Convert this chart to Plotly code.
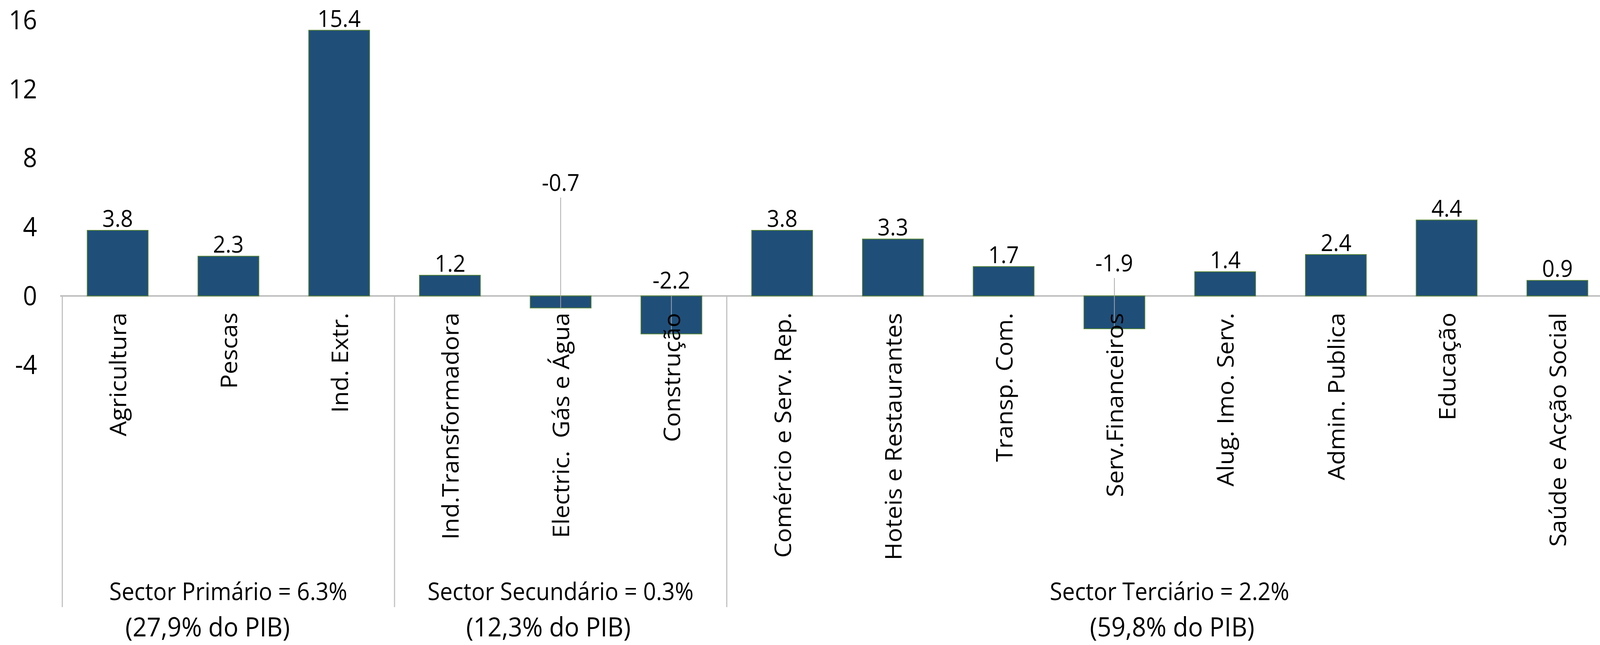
import plotly.graph_objects as go

# ---------------- data ----------------
categories = [
    "Agricultura", "Pescas", "Ind. Extr.",
    "Ind.Transformadora", "Electric.\u00a0 Gás e Água", "Construção",
    "Comércio e Serv. Rep.", "Hoteis e Restaurantes", "Transp. Com.",
    "Serv.Financeiros", "Alug. Imo. Serv.", "Admin. Publica", "Educação",
    "Saúde e Acção Social",
]
values = [3.8, 2.3, 15.4, 1.2, -0.7, -2.2, 3.8, 3.3, 1.7, -1.9, 1.4, 2.4, 4.4, 0.9]
sector_labels = ["Sector Primário = 6.3%", "Sector Secundário = 0.3%", "Sector Terciário = 2.2%"]
sector_sizes = [3, 3, 8]
pib_labels = ["(27,9% do PIB)", "(12,3% do PIB)", "(59,8% do PIB)"]
y_ticks = [-4, 0, 4, 8, 12, 16]

# ---------------- layout / style constants ----------------
W, H = 4394, 1652
BAR_COLOR = "#1F4E79"
BAR_EDGE = "#548235"
AXIS_GREY = "#BFBFBF"
LEADER_GREY = "#A6A6A6"
FONT = "Open Sans"
Y_MIN, Y_MAX = -18.04, 16
X_MIN, X_MAX = -0.52, 13.385
NEG_LABEL_Y = {4: 6.61, 5: 0.95, 9: 1.95}   # moved labels of negative bars
LEADER_GAP = 0.91
SECTOR_Y = -17.09
PIB_Y = -19.14
PIB_X_OFFSET = [-0.19, -0.11, 0.02]


def y_to_paper(y):
    return (y - Y_MIN) / (Y_MAX - Y_MIN)


fig = go.Figure(
    go.Bar(
        x=categories,
        y=values,
        marker=dict(color=BAR_COLOR, line=dict(color=BAR_EDGE, width=2)),
        hoverinfo="skip",
    )
)

annotations = []
shapes = []

# value labels + leader lines
for i, (c, v) in enumerate(zip(categories, values)):
    if v >= 0:
        annotations.append(dict(x=c, y=v, xref="x", yref="y", text=f"{v:.1f}",
                                showarrow=False, yanchor="bottom", yshift=-11,
                                font=dict(family=FONT, size=60, color="black")))
    else:
        ly = NEG_LABEL_Y[i]
        annotations.append(dict(x=c, y=ly, xref="x", yref="y", text=f"{v:.1f}",
                                showarrow=False, yanchor="middle",
                                font=dict(family=FONT, size=60, color="black")))
        shapes.append(dict(type="line", xref="x", yref="y", x0=i, x1=i,
                           y0=v, y1=ly - LEADER_GAP, layer="above",
                           line=dict(color=LEADER_GREY, width=2)))

# category labels (rotated, hanging below the zero line)
for c in categories:
    annotations.append(dict(x=c, y=0, xref="x", yref="y", text=c, textangle=-90,
                            showarrow=False, yanchor="top", yshift=-41,
                            font=dict(family=FONT, size=62, color="black")))

# sector group labels and separators
start = 0
boundaries = [-0.5]
for k, n in enumerate(sector_sizes):
    center = start + (n - 1) / 2
    annotations.append(dict(x=center, y=SECTOR_Y, xref="x", yref="y",
                            text=sector_labels[k], showarrow=False,
                            xanchor="center", yanchor="middle",
                            font=dict(family=FONT, size=62, color="black")))
    annotations.append(dict(x=center + PIB_X_OFFSET[k], y=y_to_paper(PIB_Y),
                            xref="x", yref="paper",
                            text=pib_labels[k], showarrow=False,
                            xanchor="center", yanchor="middle",
                            font=dict(family=FONT, size=68, color="black")))
    start += n
    boundaries.append(start - 0.5)

for b in boundaries:
    shapes.append(dict(type="line", xref="x", yref="y", x0=b, x1=b,
                       y0=0, y1=Y_MIN, layer="above",
                       line=dict(color=AXIS_GREY, width=3)))

fig.update_layout(
    width=W, height=H,
    margin=dict(l=165, r=0, t=51, b=97, pad=0),
    paper_bgcolor="white", plot_bgcolor="white",
    showlegend=False, hovermode=False,
    bargap=0.45,
    annotations=annotations,
    shapes=shapes,
    font=dict(family=FONT, color="black"),
)
fig.update_xaxes(type="category", range=[X_MIN, X_MAX], showticklabels=False,
                 showgrid=False, showline=False, zeroline=False, ticks="")
fig.update_yaxes(range=[Y_MIN, Y_MAX], tickvals=y_ticks,
                 ticktext=[str(t) for t in y_ticks],
                 tickfont=dict(family=FONT, size=68, color="black"),
                 showgrid=False, showline=False, ticks="",
                 zeroline=True, zerolinecolor=AXIS_GREY, zerolinewidth=4,
                 ticklabelstandoff=62)

# fit the fixed-size figure into the actual browser viewport
POST = """
document.documentElement.style.margin='0';
document.body.style.margin='0';
document.documentElement.style.overflow='hidden';
document.body.style.overflow='hidden';
var gd = document.querySelector('.plotly-graph-div');
var sx = window.innerWidth / %d, sy = window.innerHeight / %d;
gd.style.transformOrigin = '0 0';
gd.style.transform = 'scale(' + sx + ',' + sy + ')';
""" % (W, H)

fig.write_html("out.html", config={"displayModeBar": False}, post_script=POST)
